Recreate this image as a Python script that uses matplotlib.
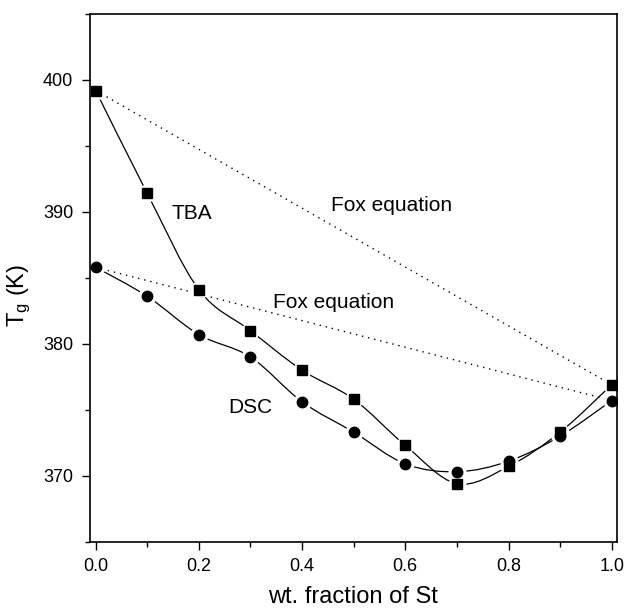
import numpy as np
import matplotlib
matplotlib.use("Agg")
import matplotlib.pyplot as plt
from matplotlib.path import Path
from matplotlib.patches import PathPatch
from matplotlib.ticker import MultipleLocator

# wt. fraction of St and glass transition temperatures (K)
w_st = [0.0, 0.1, 0.2, 0.3, 0.4, 0.5, 0.6, 0.7, 0.8, 0.9, 1.0]
tg_tba = [399.2, 391.4, 384.1, 381.0, 378.0, 375.8, 372.3, 369.4, 370.7, 373.3, 376.9]
tg_dsc = [385.8, 383.6, 380.7, 379.0, 375.6, 373.3, 370.9, 370.3, 371.1, 373.0, 375.7]

# Fox equation predictions (end points)
fox_x = [0.0, 1.0]
fox_tba = [399.2, 376.9]
fox_dsc = [385.8, 375.7]

plt.rcParams["font.family"] = ["Liberation Sans", "DejaVu Sans"]
plt.rcParams["mathtext.default"] = "regular"


def smooth_path(x, y):
    """Catmull-Rom curve through the points, as cubic Bezier segments."""
    p = np.column_stack([x, y])
    pts = np.vstack([p[0], p, p[-1]])
    verts, codes = [tuple(p[0])], [Path.MOVETO]
    for i in range(1, len(pts) - 2):
        c1 = pts[i] + (pts[i + 1] - pts[i - 1]) / 6
        c2 = pts[i + 1] - (pts[i + 2] - pts[i]) / 6
        verts += [tuple(c1), tuple(c2), tuple(pts[i + 1])]
        codes += [Path.CURVE4] * 3
    return Path(verts, codes)


fig = plt.figure(figsize=(6.25, 6.1), dpi=100)
ax = fig.add_axes([0.144, 0.112, 0.843, 0.865])

ax.plot(fox_x, fox_tba, color="black", lw=1.0, ls=(0, (1, 3.5)))
ax.plot(fox_x, fox_dsc, color="black", lw=1.0, ls=(0, (1, 3.5)))

series = [(tg_tba, "s", 6.5), (tg_dsc, "o", 7.5)]
# smooth lines, then white halos (gaps round the symbols), then symbols
for yv, mk, ms in series:
    ax.add_patch(PathPatch(smooth_path(w_st, yv), fc="none", ec="black", lw=0.9))
for yv, mk, ms in series:
    ax.plot(w_st, yv, ls="none", marker="o", ms=13, mfc="white", mec="none")
for yv, mk, ms in series:
    ax.plot(w_st, yv, ls="none", marker=mk, ms=ms, mfc="black", mec="black")

ax.text(0.187, 389.9, "TBA", fontsize=15, ha="center", va="center")
ax.text(0.30, 375.2, "DSC", fontsize=15, ha="center", va="center")
ax.text(0.573, 390.5, "Fox equation", fontsize=15, ha="center", va="center")
ax.text(0.461, 383.1, "Fox equation", fontsize=15, ha="center", va="center")

ax.set_xlim(-0.011, 1.01)
ax.set_ylim(365, 405)
ax.xaxis.set_major_locator(MultipleLocator(0.2))
ax.xaxis.set_minor_locator(MultipleLocator(0.1))
ax.yaxis.set_major_locator(MultipleLocator(10))
ax.yaxis.set_minor_locator(MultipleLocator(5))
ax.xaxis.set_major_formatter(plt.FormatStrFormatter("%.1f"))
ax.tick_params(which="both", direction="out", top=False, right=False, width=1.0)
ax.tick_params(which="major", length=6, labelsize=13, pad=6)
ax.tick_params(which="minor", length=3.5)
for s in ax.spines.values():
    s.set_linewidth(1.2)

ax.set_xlabel("wt. fraction of St", fontsize=17, labelpad=8)
ax.set_ylabel("T$_g$ (K)", fontsize=17)
ax.yaxis.set_label_coords(-0.108, 0.467)

fig.savefig("out.png", dpi=100)
